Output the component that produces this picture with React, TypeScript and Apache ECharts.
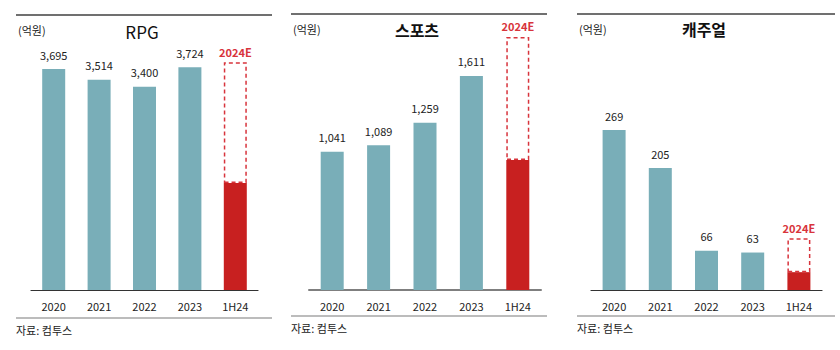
import React, { useEffect, useRef } from "react";
import * as echarts from "echarts";

const categories = ["2020", "2021", "2022", "2023", "1H24"];
const panelTitles = ["RPG", "스포츠", "캐주얼"];
const unitLabel = "(억원)";
const sourceLabel = "자료: 컴투스";
const estimateLabel = "2024E";

const rpgValues = [3695, 3514, 3400, 3724, 1790];
const sportsValues = [1041, 1089, 1259, 1611, 979];
const casualValues = [269, 205, 66, 63, 30];
const estimate2024 = [3810, 1905, 87];

const TEAL = "#79AEB8";
const RED = "#C82020";
const DASH = "#D8343C";
const FONT = "'Noto Sans CJK KR', 'Noto Sans', sans-serif";

export default function App() {
  const ref = useRef<HTMLDivElement>(null);
  useEffect(() => {
    if (!ref.current) return;
    const chart = echarts.init(ref.current, null, { renderer: "svg" });
    const allValues = [rpgValues, sportsValues, casualValues];
    const grids = [
      { left: 31, width: 227, top: 50.8, height: 239.2 },
      { left: 309, width: 232, top: 24.3, height: 265.7 },
      { left: 591, width: 231, top: 52.1, height: 237.9 },
    ];
    const maxes = [4000, 2000, 400];
    const axisStyles = [
      { color: "#333", width: 1.2 },
      { color: "#7f7f7f", width: 2 },
      { color: "#333", width: 1.2 },
    ];
    const series: any[] = [];
    allValues.forEach((vals, i) => {
      const last = vals.length - 1;
      series.push({
        type: "bar",
        xAxisIndex: i,
        yAxisIndex: i,
        stack: "s" + i,
        barWidth: 23,
        data: vals.map((v, j) =>
          j === last
            ? { value: v, itemStyle: { color: RED }, label: { show: false } }
            : { value: v }
        ),
        itemStyle: { color: TEAL },
        label: {
          show: true,
          position: "top",
          distance: 9,
          fontSize: 11,
          fontFamily: FONT,
          color: "#222",
          formatter: (p: any) => Number(p.value).toLocaleString("en-US"),
        },
      });
      series.push({
        type: "bar",
        xAxisIndex: i,
        yAxisIndex: i,
        stack: "s" + i,
        barWidth: 23,
        data: vals.map((v, j) => (j === last ? estimate2024[i] - v : "-")),
        itemStyle: {
          color: "rgba(0,0,0,0)",
          borderColor: DASH,
          borderWidth: 1.5,
          borderType: [4, 3],
        },
        label: {
          show: true,
          position: "top",
          distance: 5,
          fontSize: 11,
          fontWeight: "bold",
          fontFamily: FONT,
          color: DASH,
          formatter: () => estimateLabel,
        },
      });
    });

    const panelX = [
      { l: 16, r: 272, top: 15, bot: 318, title: 142, titleY: 31, unitX: 18, unitY: 30, srcY: 330 },
      { l: 291, r: 547, top: 14, bot: 316, title: 417, titleY: 30, unitX: 293, unitY: 29, srcY: 328 },
      { l: 577, r: 835, top: 14, bot: 316, title: 704, titleY: 29, unitX: 579, unitY: 29, srcY: 328 },
    ];
    const graphic: any[] = [];
    panelX.forEach((p, i) => {
      graphic.push({
        type: "line",
        shape: { x1: p.l, y1: p.top, x2: p.r, y2: p.top },
        style: { stroke: "#404040", lineWidth: 1.5 },
      });
      graphic.push({
        type: "line",
        shape: { x1: p.l, y1: p.bot, x2: p.r, y2: p.bot },
        style: { stroke: "#a6a6a6", lineWidth: 1.5 },
      });
      graphic.push({
        type: "text",
        x: p.title,
        y: p.titleY,
        style: {
          text: panelTitles[i],
          fontSize: i === 0 ? 17 : 16,
          fontWeight: i === 0 ? "normal" : "bold",
          fontFamily: FONT,
          fill: "#111",
          align: "center",
          verticalAlign: "middle",
        },
      });
      graphic.push({
        type: "text",
        x: p.unitX,
        y: p.unitY,
        style: {
          text: unitLabel,
          fontSize: 11,
          fontFamily: FONT,
          fill: "#222",
          align: "left",
          verticalAlign: "middle",
        },
      });
      graphic.push({
        type: "text",
        x: p.l,
        y: p.srcY,
        style: {
          text: sourceLabel,
          fontSize: 11,
          fontFamily: FONT,
          fill: "#222",
          align: "left",
          verticalAlign: "middle",
        },
      });
    });

    chart.setOption({
      animation: false,
      grid: grids,
      xAxis: grids.map((_, i) => ({
        type: "category",
        gridIndex: i,
        data: categories,
        axisLine: { lineStyle: axisStyles[i] },
        axisTick: { show: false },
        axisLabel: { fontSize: 11, fontFamily: FONT, color: "#222", margin: 10 },
      })),
      yAxis: grids.map((_, i) => ({
        type: "value",
        gridIndex: i,
        min: 0,
        max: maxes[i],
        show: false,
        splitLine: { show: false },
      })),
      series,
      graphic,
    });
    return () => chart.dispose();
  }, []);
  return (
    <div
      ref={ref}
      style={{ position: "fixed", left: 0, top: 0, width: 840, height: 350, background: "#fff" }}
    />
  );
}
